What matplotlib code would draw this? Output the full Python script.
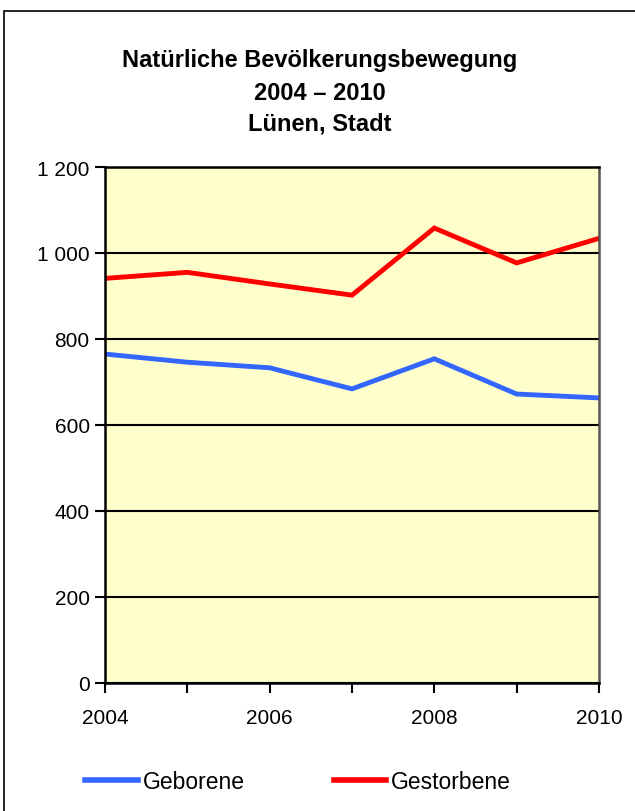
import matplotlib
matplotlib.use("Agg")
import matplotlib.pyplot as plt
from matplotlib.patches import Rectangle
from matplotlib.ticker import FuncFormatter, MultipleLocator

plt.rcParams['font.family'] = ['Liberation Sans', 'DejaVu Sans']

# data
years = [2004, 2005, 2006, 2007, 2008, 2009, 2010]
geborene = [765, 746, 733, 684, 754, 672, 663]
gestorbene = [941, 955, 928, 902, 1058, 977, 1034]

fig = plt.figure(figsize=(6.35, 8.12), dpi=100)
W, H = 635, 812
# plot area in pixels: left 105, right 599, top 168, bottom 684
ax = fig.add_axes([105 / W, 1 - 684 / H, (599 - 105) / W, (684 - 168) / H])
ax.set_facecolor('#FFFFCC')

ax.plot(years, geborene, color='#3366FF', lw=3.5, label='Geborene',
        solid_joinstyle='miter')
ax.plot(years, gestorbene, color='#FF0000', lw=3.5, label='Gestorbene',
        solid_joinstyle='miter')

ax.set_xlim(2004, 2010)
ax.set_ylim(0, 1200)
ax.yaxis.set_major_locator(MultipleLocator(200))
ax.yaxis.set_major_formatter(FuncFormatter(lambda v, p: f'{int(v):,}'.replace(',', ' ')))
ax.xaxis.set_major_locator(MultipleLocator(2))
ax.xaxis.set_minor_locator(MultipleLocator(1))
ax.grid(axis='y', color='black', lw=1.5)
ax.set_axisbelow(True)

for s in ax.spines.values():
    s.set_color('black')
    s.set_linewidth(1.8)
ax.spines['right'].set_color('#555555')

ax.tick_params(axis='both', direction='out', length=7, width=1.5, labelsize=15, colors='black')
ax.tick_params(axis='x', which='minor', direction='out', length=7, width=1.5)
ax.tick_params(axis='x', pad=11)
ax.tick_params(axis='y', pad=4)

title_lines = ['Natürliche Bevölkerungsbewegung', '2004 – 2010', 'Lünen, Stadt']
for line, ypx in zip(title_lines, [60, 93, 124]):
    fig.text(320 / W, 1 - ypx / H, line, ha='center', va='center',
             fontsize=17, fontweight='bold')

leg = fig.legend(loc='center', bbox_to_anchor=(298 / W, 1 - 783 / H), ncol=2,
                 frameon=False, fontsize=16.5, handlelength=2.3, handletextpad=0.2,
                 columnspacing=3.9)
for h in leg.legend_handles:
    h.set_linewidth(4)

# outer frame, cut off at right and bottom like the reference
fig.patches.append(Rectangle((4 / W, -0.1), 1.2, 1 - 12 / H + 0.1,
                             transform=fig.transFigure, fill=False,
                             edgecolor='black', lw=1.2))

fig.savefig('out.png', dpi=100)
